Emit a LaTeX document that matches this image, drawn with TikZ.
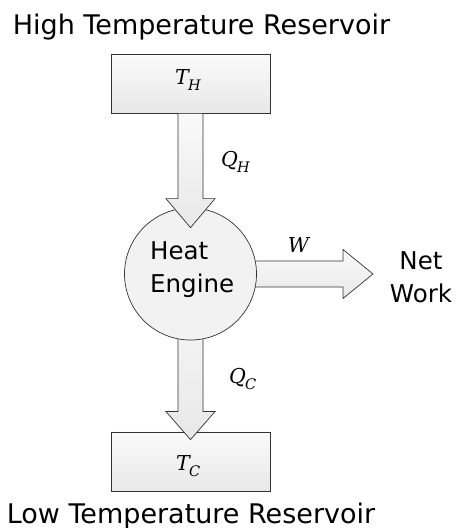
\documentclass[tikz,border=0pt]{standalone}
\usepackage{fontspec}
\setmainfont{DejaVu Sans}
\newfontfamily\symfont{DejaVu Serif}
\usetikzlibrary{positioning, calc, shadows}

% italic symbol with a subscript
\newcommand{\varsym}[2]{{\symfont\itshape #1\kern-0.04em\raisebox{-0.26em}{\fontsize{14.5}{15}\selectfont #2}}}

\tikzset{
	reservoir/.style={draw=black!80, line width=0.8pt, top color=black!2, bottom color=black!9,
		minimum width=159pt, minimum height=59pt, drop shadow={shadow xshift=1pt, shadow yshift=-1pt, opacity=0.12}},
	engine/.style={draw=black!80, line width=0.7pt, circle, fill=black!5, minimum size=132pt, inner sep=0pt},
	flow/.style={draw=black!80, line width=0.7pt, line join=miter, top color=black!2, bottom color=black!9},
	caption/.style={font=\fontsize{27}{31}\selectfont, inner sep=0pt},
	plaintext/.style={font=\fontsize{24.5}{33}\selectfont, inner sep=0pt},
	sym/.style={font=\fontsize{20.5}{24}\selectfont, inner sep=0pt}
}

\begin{document}
\begin{tikzpicture}[x=1pt, y=1pt]
		\useasboundingbox (0,0) rectangle (459,528);
		% reservoirs
		\node[caption, anchor=base] (hottitle) at (201.5,493) {High Temperature Reservoir};
		\node[reservoir] (hot) at (190.5,444.5) {};
		\node[reservoir] (cold) at (190.5,66.5) {};
		\node[sym, anchor=base west] (th) at (175,443) {\varsym{T}{H}};
		\node[caption, anchor=base] (coldtitle) at (191,5) {Low Temperature Reservoir};
		% outgoing flows, under the engine
		\coordinate (c) at (190.5,254);
		\coordinate (wtip) at (373,254);
		\coordinate (qctip) at ([yshift=-8pt]cold.north);
		\draw[flow] let \p1=(c), \p2=(wtip) in
			(\x1,\y1+13pt) -- (\x2-30pt,\y1+13pt) -- (\x2-30pt,\y1+24.5pt) -- (\p2)
			-- (\x2-30pt,\y1-24.5pt) -- (\x2-30pt,\y1-13pt) -- (\x1,\y1-13pt) -- cycle;
		\draw[flow] let \p1=(c), \p2=(qctip) in
			(\x1-12.5pt,\y1) -- (\x1-12.5pt,\y2+28pt) -- (\x1-24.5pt,\y2+28pt) -- (\p2)
			-- (\x1+24.5pt,\y2+28pt) -- (\x1+12.5pt,\y2+28pt) -- (\x1+12.5pt,\y1) -- cycle;
		\node[sym, anchor=base west] (tc) at (176,57) {\varsym{T}{C}};
		% engine
		\node[engine] (eng) at (c) {};
		\node[plaintext, align=left, anchor=base west] (engtext) at (150,235) {Heat\\Engine};
		\coordinate (qhtip) at ([yshift=-20pt]eng.north);
		\draw[flow] let \p1=(hot.south), \p2=(qhtip) in
			(\x1-12.5pt,\y1) -- (\x1-12.5pt,\y2+29pt) -- (\x1-24.5pt,\y2+29pt) -- (\p2)
			-- (\x1+24.5pt,\y2+29pt) -- (\x1+12.5pt,\y2+29pt) -- (\x1+12.5pt,\y1) -- cycle;
		% labels
		\node[sym, anchor=base west] (qh) at (221,361) {\varsym{Q}{H}};
		\node[sym, anchor=base west] (qc) at (229,144) {\varsym{Q}{C}};
		\node[sym, anchor=base] (w) at (298.5,275) {{\symfont\itshape W}};
		\node[plaintext, align=center, anchor=base] (net) at (421,225) {Net\\Work};
	\end{tikzpicture}
\end{document}
